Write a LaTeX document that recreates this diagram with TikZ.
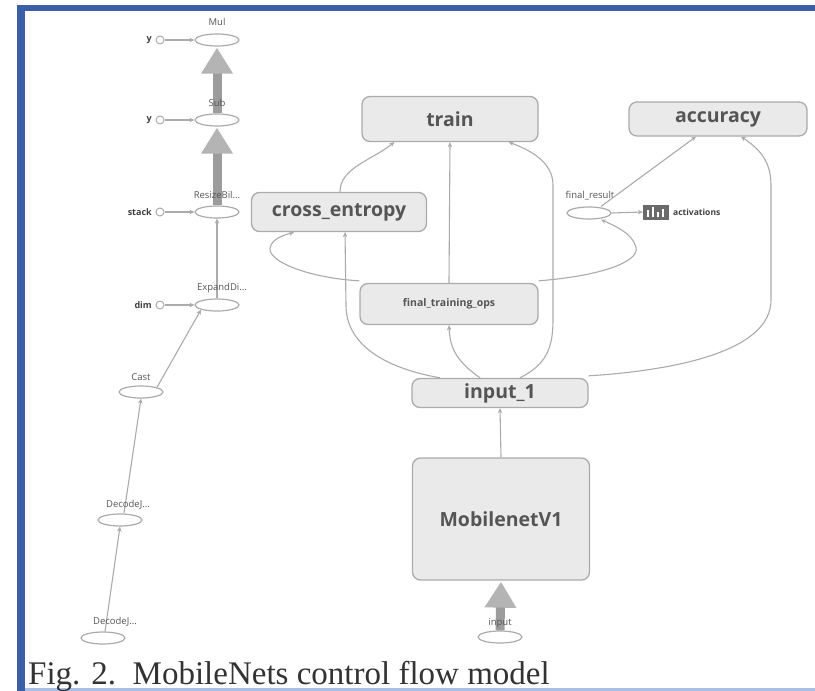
\documentclass[tikz,border=0pt]{standalone}
\usepackage{fontspec}
\setmainfont{Liberation Serif}
\newfontfamily\nodefont{Open Sans}
\usetikzlibrary{shapes.geometric,arrows.meta}
\definecolor{frameblue}{HTML}{3A5FA6}
\definecolor{framelight}{HTML}{A9BFE6}
\definecolor{boxfill}{HTML}{EAEAEA}
\definecolor{boxline}{HTML}{ABABAB}
\definecolor{edgecol}{HTML}{ABABAB}
\definecolor{textcol}{HTML}{555555}
\definecolor{thickcol}{HTML}{9C9C9C}
\definecolor{thickhead}{HTML}{B4B4B4}
\definecolor{iconcol}{HTML}{6A6A6A}
\begin{document}
\begin{tikzpicture}[x=1pt,y=-1pt,
  grp/.style={draw=boxline,fill=boxfill,line width=1.3pt,rounded corners=8pt,
    font=\nodefont\bfseries\fontsize{19.5}{20}\selectfont,text=textcol,inner sep=0pt},
  smallgrp/.style={grp,font=\nodefont\bfseries\fontsize{10.5}{11}\selectfont},
  op/.style={ellipse,draw=boxline,line width=1.2pt,fill=white,minimum width=44pt,
    minimum height=12pt,inner sep=0pt},
  lab/.style={font=\nodefont\fontsize{9.5}{10}\selectfont,text=textcol,inner sep=0pt},
  clab/.style={lab,anchor=east,font=\nodefont\bfseries\fontsize{9}{10}\selectfont,text=black!75},
  const/.style={circle,draw=boxline,line width=1pt,minimum size=8pt,inner sep=0pt,fill=white},
  flow/.style={draw=edgecol,line width=1.1pt,-{Stealth[length=5pt,width=4.5pt]}},
  bigflow/.style={draw=thickcol,line width=9pt,-{Triangle[length=26pt,width=30pt,color=thickhead]}},
]
\useasboundingbox (0,0) rectangle (815,691);
\fill[white] (0,0) rectangle (815,691);
% frame
\fill[frameblue] (17,5) rectangle (815,11);
\fill[frameblue] (17,5) rectangle (25,691);
\fill[framelight] (25,688) rectangle (815,691);

% ---------- left column ----------
\node[op] (mul) at (217,40) {};
\node[op] (sub) at (217,120) {};
\node[op] (resize) at (217,212) {};
\node[op] (expand) at (217,305) {};
\node[op] (cast) at (141,392) {};
\node[op] (dec1) at (120,520) {};
\node[op] (dec2) at (103,638) {};

\node[const] (cy1) at (160,40) {};
\node[const] (cy2) at (160,120) {};
\node[const] (cstack) at (160,212) {};
\node[const] (cdim) at (160,305) {};

\draw[flow] (cy1) -- (mul);
\draw[flow] (cy2) -- (sub);
\draw[flow] (cstack) -- (resize);
\draw[flow] (cdim) -- (expand);

\draw[bigflow] (sub.north) -- ([yshift=-1pt]mul.south);
\draw[bigflow] (resize.north) -- ([yshift=-1pt]sub.south);
\draw[flow] (expand.north) -- (resize.south);
\draw[flow] (cast.north east) -- (expand.south west);
\draw[flow] ([xshift=4pt]dec1.north) -- (cast.south);
\draw[flow] ([xshift=2pt]dec2.north) -- (dec1.south);

\node[lab] (mullab) at (217,22) {Mul};
\node[lab] (sublab) at (217,103) {Sub};
\node[lab] (resizelab) at (217,195) {ResizeBil...};
\node[lab] (expandlab) at (222,288) {ExpandDi...};
\node[lab] (castlab) at (141,377) {Cast};
\node[lab] (dec1lab) at (128,505) {DecodeJ...};
\node[lab] (dec2lab) at (115,622) {DecodeJ...};
\node[clab] (cy1lab) at (152,40) {y};
\node[clab] (cy2lab) at (152,120) {y};
\node[clab] (cstacklab) at (152,212) {stack};
\node[clab] (cdimlab) at (152,305) {dim};

% ---------- right part ----------
\node[grp,minimum width=176pt,minimum height=45pt] (train) at (450,119) {train};
\node[grp,minimum width=178pt,minimum height=34pt] (acc) at (718,119) {accuracy};
\node[grp,minimum width=175pt,minimum height=39pt] (ce) at (339,212) {cross\_entropy};
\node[smallgrp,minimum width=178pt,minimum height=41pt] (fto) at (449,304) {final\_training\_ops};
\node[grp,minimum width=176pt,minimum height=29pt] (in1) at (500,393) {input\_1};
\node[grp,minimum width=177pt,minimum height=122pt] (mob) at (501,519) {MobilenetV1};
\node[op] (inp) at (500,637) {};

\node[op] (fres) at (589,213) {};
\node[lab] (freslab) at (590,196) {final\_result};
\node[fill=iconcol,minimum width=26pt,minimum height=15pt,inner sep=0pt] (icon) at (656,212) {};
\fill[white] (647,210) rectangle (649,217);
\fill[white] (652,207) rectangle (654,217);
\fill[white] (657,212) rectangle (659,217);
\fill[white] (662,209) rectangle (664,217);
\node[lab,anchor=west,font=\nodefont\bfseries\fontsize{8.5}{9}\selectfont,text=black!75] (actlab) at (673,212) {activations};

\draw[bigflow] (inp.north) -- ([yshift=-1pt]mob.south);
\node[lab] (inplab) at (500,623) {input};
\draw[flow] (mob.north) -- (in1.south);

% input_1 -> cross_entropy
\draw[flow] ([xshift=-60pt]in1.north) .. controls (385,368) and (346,345) .. (346,305)
  -- ([xshift=6pt]ce.south);
% input_1 -> final_training_ops
\draw[flow] ([xshift=-20pt]in1.north) .. controls (458,362) and (450,350) .. (fto.south);
% input_1 -> train
\draw[flow] ([xshift=20pt]in1.north) .. controls (545,365) and (553,350) .. (553,320)
  -- (553,185) .. controls (553,162) and (530,150) .. ([xshift=-30pt]train.south east);
% input_1 -> accuracy
\draw[flow] ([yshift=2pt]in1.north east) .. controls (680,370) and (771,350) .. (771,300)
  -- (771,185) .. controls (771,160) and (758,148) .. ([xshift=23pt]acc.south);
% final_training_ops -> train
\draw[flow] (fto.north) -- (train.south);
% cross_entropy -> train
\draw[flow] ([xshift=1pt]ce.north) .. controls (340,168) and (372,160) .. ([xshift=33pt]train.south west);
% final_training_ops -> cross_entropy
\draw[flow] ([yshift=2pt]fto.north west) .. controls (310,278) and (268,262) .. (270,248)
  .. controls (272,238) and (285,235) .. ([xshift=-45pt]ce.south);
% final_training_ops -> final_result
\draw[flow] ([yshift=2pt]fto.north east) .. controls (600,276) and (640,262) .. (636,247)
  .. controls (632,233) and (615,226) .. ([xshift=12pt]fres.south);
% final_result -> accuracy
\draw[flow] ([xshift=12pt]fres.north) -- ([xshift=-22pt]acc.south);
% final_result -> activations
\draw[flow] (fres.east) -- (icon.west);

% caption
\node[anchor=base west,inner sep=0pt,text=black!80,font=\fontsize{33}{33}\selectfont] (caption) at (28,684)
  {Fig. 2.\ \ MobileNets control flow model};
\end{tikzpicture}
\end{document}
